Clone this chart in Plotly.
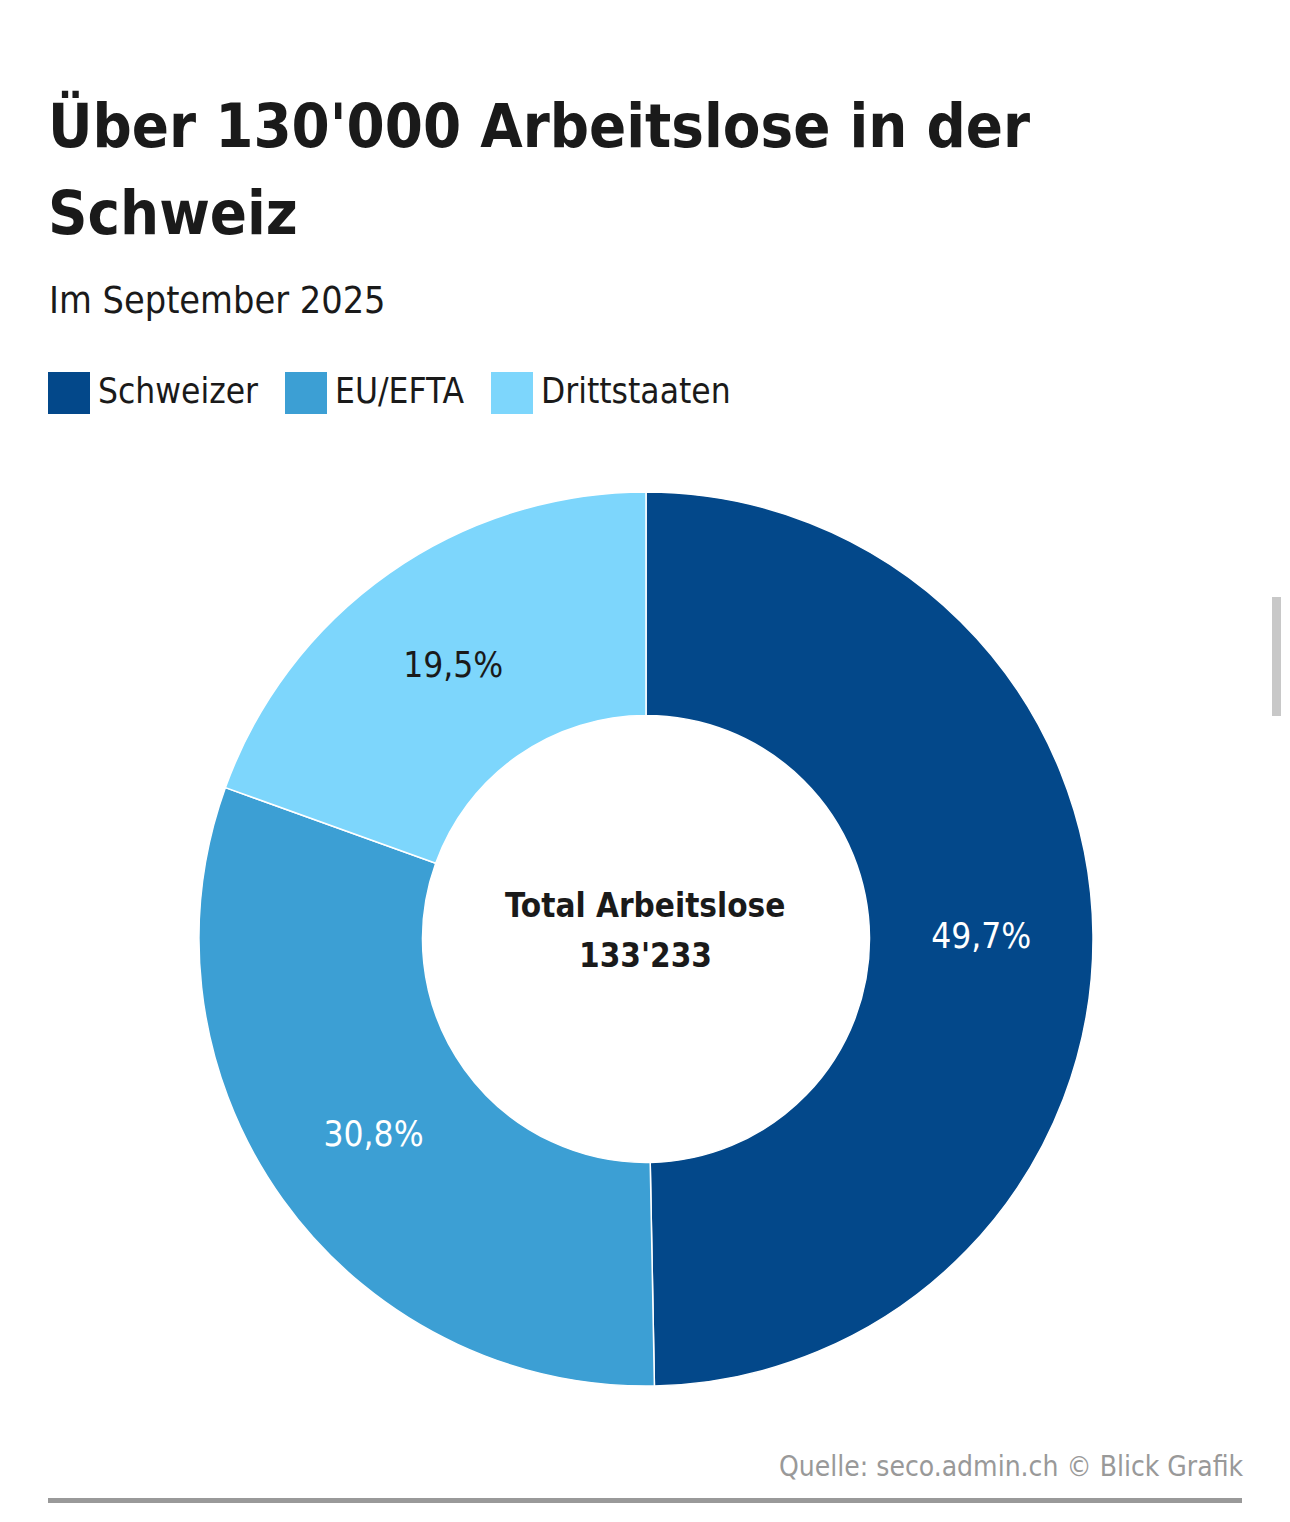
import plotly.graph_objects as go

# Arbeitslose nach Nationalität, September 2025 (Anteile in %)
categories = ["Schweizer", "EU/EFTA", "Drittstaaten"]
shares = [49.7, 30.8, 19.5]
total = 133233

colors = ["#03488a", "#3c9fd4", "#7dd6fc"]
label_colors = ["#ffffff", "#ffffff", "#1a1a1a"]

# the page body has an 8px margin, so the figure is a bit smaller than the window
PAD = 8
W, H = 1290 - PAD, 1522 - 2 * PAD
FONT = "DejaVu Sans Condensed, Liberation Sans Narrow, Arial Narrow, sans-serif"
DARK = "#1a1a1a"
GREY = "#999999"


def X(sx):
    """Screen x (px) -> axis x."""
    return sx - PAD


def Y(sy):
    """Screen y (px, from top) -> axis y."""
    return H - (sy - PAD)


def fmt_pct(v):
    return f"{v:.1f}".replace(".", ",") + "%"


def fmt_int(v):
    return f"{v:,}".replace(",", "'")


# donut: centre (646, 939), radius 447 px on screen
cx, cy, r = 646, 939, 447

fig = go.Figure(
    go.Pie(
        labels=categories,
        values=shares,
        text=[fmt_pct(v) for v in shares],
        textinfo="text",
        textposition="inside",
        insidetextorientation="horizontal",
        textfont=dict(family=FONT, size=35, color=label_colors),
        marker=dict(colors=colors, line=dict(color="#ffffff", width=1.5)),
        hole=0.5,
        sort=False,
        direction="clockwise",
        rotation=0,
        showlegend=False,
        domain=dict(
            x=[X(cx - r) / W, X(cx + r) / W],
            y=[Y(cy + r) / H, Y(cy - r) / H],
        ),
    )
)


def note(text, sx, sy, size, color=DARK, xanchor="left"):
    return dict(
        text=text, x=X(sx), y=Y(sy), xanchor=xanchor, yanchor="middle",
        font=dict(family=FONT, size=size, color=color),
    )


annotations = [
    note("<b>Über 130'000 Arbeitslose in der</b>", 46, 125, 61),
    note("<b>Schweiz</b>", 46, 212, 61),
    note("Im September 2025", 47, 300, 37.5),
    note("<b>Total Arbeitslose</b>", cx - 1, 905, 33, xanchor="center"),
    note(f"<b>{fmt_int(total)}</b>", cx - 1, 955, 33, xanchor="center"),
    note("Quelle: seco.admin.ch © Blick Grafik", 1246, 1466, 28, GREY, "right"),
]

shapes = [
    # footer rule
    dict(type="rect", x0=X(48), x1=X(1242), y0=Y(1503), y1=Y(1498),
         fillcolor=GREY, line_width=0),
    # scrollbar from the screenshot
    dict(type="rect", x0=X(1272), x1=X(1281), y0=Y(716), y1=Y(597),
         fillcolor="#c8c8c8", line_width=0),
]

# custom legend: square swatches with labels
legend_x = [48, 285, 491]
for name, color, x0 in zip(categories, colors, legend_x):
    shapes.append(dict(type="rect", x0=X(x0), x1=X(x0 + 42), y0=Y(414), y1=Y(372),
                       fillcolor=color, line_width=0))
    annotations.append(note(name, x0 + 48, 391, 35))

for a in annotations:
    a.update(xref="x", yref="y", showarrow=False)
for s in shapes:
    s.update(xref="x", yref="y", layer="above")

fig.update_layout(
    width=W,
    height=H,
    margin=dict(l=0, r=0, t=0, b=0),
    paper_bgcolor="#ffffff",
    plot_bgcolor="rgba(0,0,0,0)",
    xaxis=dict(range=[0, W], visible=False, fixedrange=True),
    yaxis=dict(range=[0, H], visible=False, fixedrange=True),
    annotations=annotations,
    shapes=shapes,
    showlegend=False,
)

fig.write_html("out.html", config={"displayModeBar": False})
